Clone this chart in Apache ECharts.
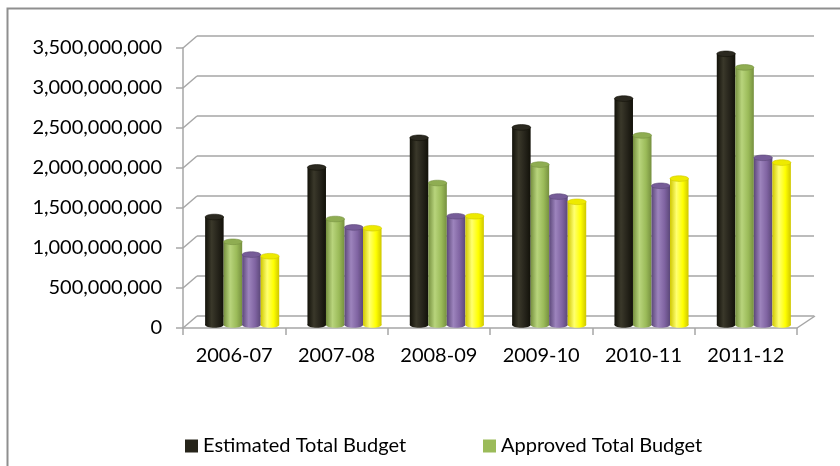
<!DOCTYPE html>
<html><head><meta charset="utf-8">
<script src="https://cdn.jsdelivr.net/npm/echarts@6/dist/echarts.min.js"></script>
<style>html,body{margin:0;padding:0;background:#fff}#c{width:840px;height:466px}</style>
</head><body><div id="c"></div>
<script>
const categories = ['2006-07', '2007-08', '2008-09', '2009-10', '2010-11', '2011-12'];
const estimatedTotal = [1350000000, 1970000000, 2340000000, 2470000000, 2830000000, 3390000000];
const approvedTotal = [1040000000, 1325000000, 1775000000, 2005000000, 2370000000, 3220000000];
const thirdSeries = [880000000, 1220000000, 1360000000, 1605000000, 1740000000, 2090000000];
const fourthSeries = [860000000, 1210000000, 1360000000, 1540000000, 1830000000, 2030000000];
const yTicks = [0, 500000000, 1000000000, 1500000000, 2000000000, 2500000000, 3000000000, 3500000000];
const seriesNames = ['Estimated Total Budget', 'Approved Total Budget', 'Series 3', 'Series 4'];
const legendNames = ['Estimated Total Budget', 'Approved Total Budget'];

const palettes = [
  {edge: '#121109', mid: '#3a382a', base: '#25231a', cap: '#2b2920', legend: '#26241a'},
  {edge: '#76903f', mid: '#b8d47c', base: '#9bbb59', cap: '#8fad52', legend: '#9bbb59'},
  {edge: '#5c4879', mid: '#9d84bd', base: '#8064a2', cap: '#765c98', legend: '#8064a2'},
  {edge: '#cfc700', mid: '#ffff70', base: '#ffff00', cap: '#eeea00', legend: '#ffff00'}
];
const allData = [estimatedTotal, approvedTotal, thirdSeries, fourthSeries];
const fmt = v => String(v).replace(/\B(?=(\d{3})+(?!\d))/g, ',');
const FONT = 'Lato';
const FS = 20;
const GRAY = '#a6a6a6';

function makeRender(si) {
  return function (params, api) {
    const idx = api.value(0), val = api.value(1);
    const top = api.coord([idx, val]);
    const base = api.coord([idx, 0]);
    const band = api.size([1, 0])[0];
    const bw = band * 0.181;
    const cx = top[0] + (si - 1.5) * bw;
    const ry = 2.8;
    const p = palettes[si];
    const grad = new echarts.graphic.LinearGradient(0, 0, 1, 0, [
      {offset: 0, color: p.edge}, {offset: 0.35, color: p.mid},
      {offset: 0.7, color: p.base}, {offset: 1, color: p.edge}]);
    return {type: 'group', children: [
      {type: 'ellipse', shape: {cx: cx, cy: base[1], rx: bw / 2, ry: ry}, style: {fill: grad}},
      {type: 'rect', shape: {x: cx - bw / 2, y: top[1], width: bw, height: base[1] - top[1]}, style: {fill: grad}},
      {type: 'ellipse', shape: {cx: cx, cy: top[1], rx: bw / 2, ry: ry}, style: {fill: p.cap, stroke: p.edge, lineWidth: 0.6}}
    ]};
  };
}

const series = allData.map((arr, si) => ({
  name: seriesNames[si], type: 'custom', xAxisIndex: 2, yAxisIndex: 2,
  itemStyle: {color: palettes[si].legend},
  renderItem: makeRender(si),
  encode: {x: 0, y: 1},
  data: categories.map((c, i) => [i, arr[i]]),
  z: 5
}));

// side-wall diagonals from front axis ticks to back wall
series.push({
  type: 'custom', xAxisIndex: 0, yAxisIndex: 0, silent: true, z: 1,
  renderItem: function (params, api) {
    const p = api.coord([0, api.value(1)]);
    const x0 = p[0] - api.size([1, 0])[0] / 2;
    return {type: 'line', shape: {x1: x0, y1: p[1], x2: x0 + 14, y2: p[1] - 12}, style: {stroke: GRAY, lineWidth: 1.5}};
  },
  data: yTicks.map(v => [0, v])
});
// floor right diagonal
series.push({
  type: 'custom', xAxisIndex: 0, yAxisIndex: 0, silent: true, z: 1,
  renderItem: function (params, api) {
    const p = api.coord([api.value(0), 0]);
    const x0 = p[0] + api.size([1, 0])[0] / 2;
    return {type: 'line', shape: {x1: x0, y1: p[1], x2: x0 + 18, y2: p[1] - 12}, style: {stroke: GRAY, lineWidth: 1.5}};
  },
  data: [[categories.length - 1, 0]]
});

const option = {
  backgroundColor: '#fff',
  animation: false,
  graphic: [{type: 'rect', left: 5, top: 6, shape: {width: 900, height: 500}, style: {fill: 'none', stroke: '#8f8f8f', lineWidth: 2}}],
  legend: [
    {data: [legendNames[0]], left: 180, top: 431, icon: 'rect', itemWidth: 13, itemHeight: 13, itemGap: 6,
     textStyle: {fontFamily: FONT, fontSize: FS, color: '#000'}},
    {data: [legendNames[1]], left: 478, top: 431, icon: 'rect', itemWidth: 13, itemHeight: 13, itemGap: 6,
     textStyle: {fontFamily: FONT, fontSize: FS, color: '#000'}}
  ],
  grid: [
    {left: 183, right: 43, top: 48, bottom: 138},
    {left: 197, right: 26, top: 36, bottom: 150},
    {left: 191, right: 35, top: 45, bottom: 141}
  ],
  xAxis: [
    {gridIndex: 0, type: 'category', data: categories, boundaryGap: true,
     axisLine: {lineStyle: {color: GRAY, width: 1.5}},
     axisTick: {show: true, length: 7, lineStyle: {color: GRAY, width: 1.5}},
     axisLabel: {fontFamily: FONT, fontSize: FS, color: '#000', margin: 18}},
    {gridIndex: 1, type: 'category', data: categories, show: false},
    {gridIndex: 2, type: 'category', data: categories, show: false}
  ],
  yAxis: [
    {gridIndex: 0, type: 'value', min: 0, max: 3500000000, interval: 500000000,
     axisLine: {show: true, lineStyle: {color: GRAY, width: 1.5}},
     axisTick: {show: true, length: 7, lineStyle: {color: GRAY, width: 1.5}},
     splitLine: {show: false},
     axisLabel: {fontFamily: FONT, fontSize: FS, color: '#000', margin: 21, formatter: fmt}},
    {gridIndex: 1, type: 'value', min: 0, max: 3500000000, interval: 500000000,
     axisLine: {show: false}, axisTick: {show: false}, axisLabel: {show: false},
     splitLine: {show: true, lineStyle: {color: GRAY, width: 1.5}}},
    {gridIndex: 2, type: 'value', min: 0, max: 3500000000, interval: 500000000, show: false, splitLine: {show: false}}
  ],
  series: series
};
const chart = echarts.init(document.getElementById('c'));
chart.setOption(option);
</script></body></html>
